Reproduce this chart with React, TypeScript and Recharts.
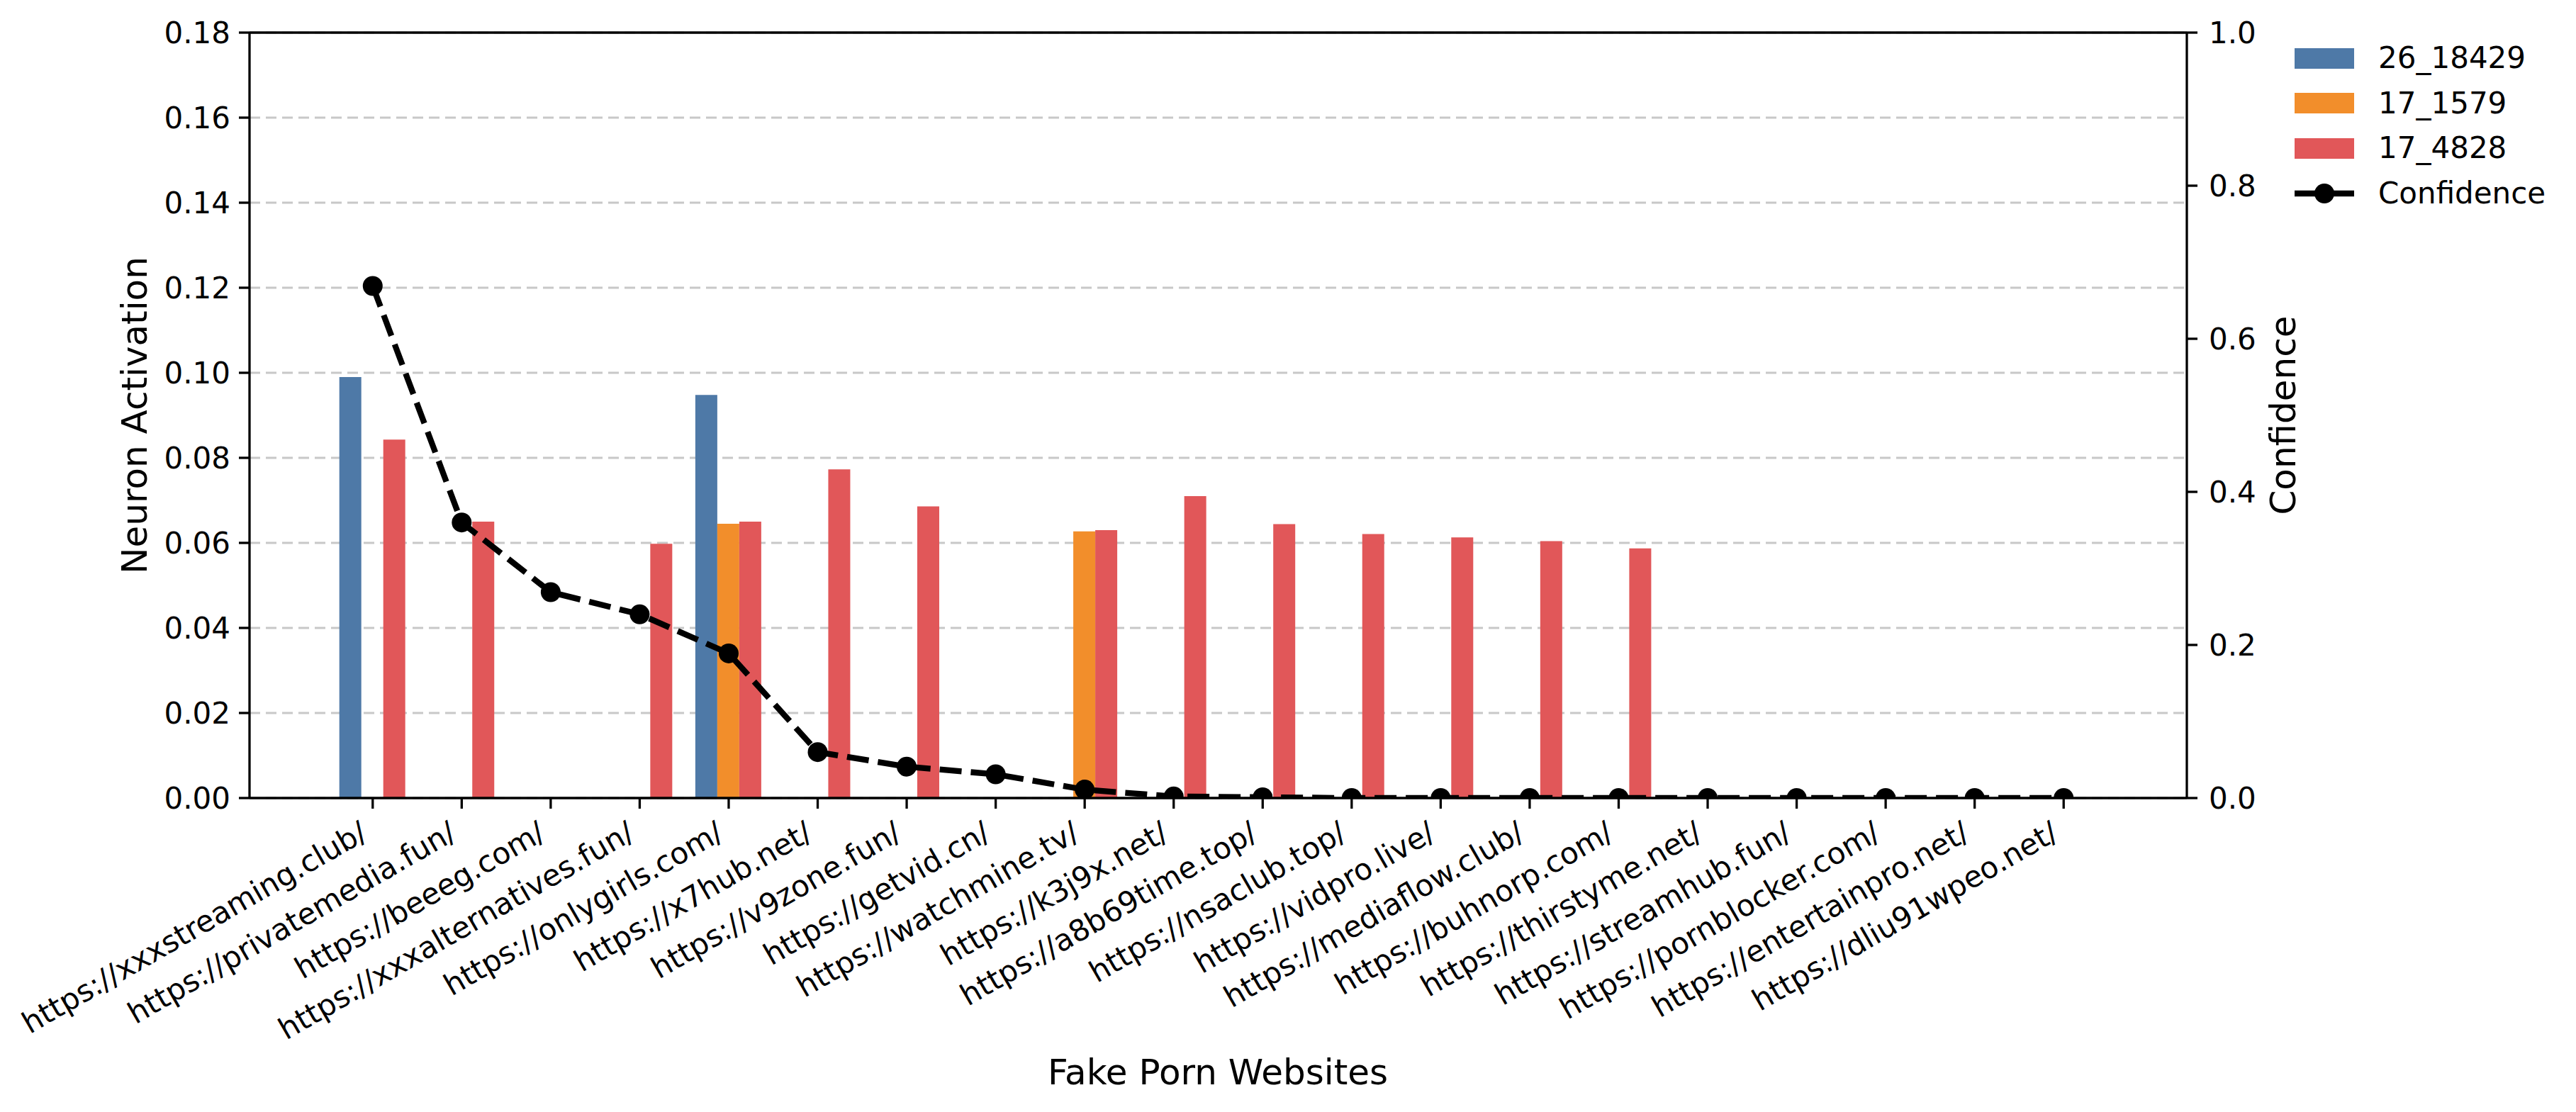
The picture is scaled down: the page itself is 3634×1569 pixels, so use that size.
import { ComposedChart, Bar, Line, XAxis, YAxis, CartesianGrid, ReferenceLine } from "recharts"

// categories on the x axis
const websites = [
  "https://xxxstreaming.club/",
  "https://privatemedia.fun/",
  "https://beeeg.com/",
  "https://xxxalternatives.fun/",
  "https://onlygirls.com/",
  "https://x7hub.net/",
  "https://v9zone.fun/",
  "https://getvid.cn/",
  "https://watchmine.tv/",
  "https://k3j9x.net/",
  "https://a8b69time.top/",
  "https://nsaclub.top/",
  "https://vidpro.live/",
  "https://mediaflow.club/",
  "https://buhnorp.com/",
  "https://thirstyme.net/",
  "https://streamhub.fun/",
  "https://pornblocker.com/",
  "https://entertainpro.net/",
  "https://dliu91wpeo.net/",
]

// neuron activations per neuron id
const neuron26_18429 = [0.099, 0, 0, 0, 0.0948, 0, 0, 0, 0, 0, 0, 0, 0, 0, 0, 0, 0, 0, 0, 0]
const neuron17_1579 = [0, 0, 0, 0, 0.0645, 0, 0, 0, 0.0627, 0, 0, 0, 0, 0, 0, 0, 0, 0, 0, 0]
const neuron17_4828 = [0.0843, 0.065, 0, 0.0598, 0.065, 0.0773, 0.0686, 0, 0.063, 0.071, 0.0644, 0.0621, 0.0613, 0.0604, 0.0587, 0, 0, 0, 0, 0]

// model confidence (right axis)
const confidence = [0.669, 0.36, 0.269, 0.24, 0.189, 0.06, 0.041, 0.031, 0.011, 0.002, 0.001, 0, 0, 0, 0, 0, 0, 0, 0, 0]

const leftTicks = [0, 0.02, 0.04, 0.06, 0.08, 0.1, 0.12, 0.14, 0.16, 0.18]
const rightTicks = [0, 0.2, 0.4, 0.6, 0.8, 1.0]

const BLUE = "#4e79a7"
const ORANGE = "#f28e2b"
const RED = "#e15759"
const FONT = "DejaVu Sans"

const data = websites.map((name, i) => ({
  name,
  a: neuron26_18429[i],
  b: neuron17_1579[i],
  c: neuron17_4828[i],
  conf: confidence[i],
}))

const XTick = (props: any) => {
  const { x, y, payload } = props
  const ax = x - 5
  const ay = y + 42
  return (
    <text
      x={ax}
      y={ay}
      transform={`rotate(-30, ${ax}, ${ay})`}
      textAnchor="end"
      fontSize={42}
      fontFamily={FONT}
      fill="#000"
    >
      {payload.value}
    </text>
  )
}

const legendItems = [
  { label: "26_18429", color: BLUE },
  { label: "17_1579", color: ORANGE },
  { label: "17_4828", color: RED },
]

export default function App() {
  const tickStyle = { fontSize: 42, fontFamily: FONT, fill: "#000" }
  const axisLine = { stroke: "#000", strokeWidth: 3.3 }

  return (
    <div style={{ position: "absolute", left: 0, top: 0, width: 3634, height: 1569, background: "#fff", fontFamily: FONT }}>
      <ComposedChart
        width={3634}
        height={1569}
        data={data}
        margin={{ top: 46, left: 152, right: 349, bottom: 143 }}
        barCategoryGap="12.5%"
        barGap={0}
      >
        <XAxis
          dataKey="name"
          height={300}
          padding={{ left: 111, right: 111 }}
          interval={0}
          tickSize={15}
          tickMargin={0}
          tick={<XTick />}
          axisLine={axisLine}
          tickLine={axisLine}
        />
        <YAxis
          yAxisId="left"
          width={200}
          domain={[0, 0.18]}
          ticks={leftTicks}
          tickFormatter={(v: number) => v.toFixed(2)}
          tickSize={15}
          tickMargin={12}
          tick={tickStyle}
          axisLine={axisLine}
          tickLine={axisLine}
        />
        <YAxis
          yAxisId="right"
          orientation="right"
          width={200}
          domain={[0, 1]}
          ticks={rightTicks}
          allowDataOverflow
          tickFormatter={(v: number) => v.toFixed(1)}
          tickSize={15}
          tickMargin={16}
          tick={tickStyle}
          axisLine={axisLine}
          tickLine={axisLine}
        />
        <Bar yAxisId="left" dataKey="a" fill={BLUE} isAnimationActive={false} />
        <Bar yAxisId="left" dataKey="b" fill={ORANGE} isAnimationActive={false} />
        <Bar yAxisId="left" dataKey="c" fill={RED} isAnimationActive={false} />
        <CartesianGrid
          yAxisId="left"
          vertical={false}
          stroke="#b0b0b0"
          strokeOpacity={0.7}
          strokeWidth={3}
          strokeDasharray="15 8"
        />
        <ReferenceLine yAxisId="left" y={0.18} stroke="#000" strokeWidth={3.3} />
        <Line
          yAxisId="right"
          dataKey="conf"
          type="linear"
          stroke="#000"
          strokeWidth={8.3}
          strokeDasharray="31 13"
          dot={{ r: 14, fill: "#000", stroke: "none", strokeWidth: 0, strokeDasharray: "0" }}
          isAnimationActive={false}
        />
      </ComposedChart>

      {/* axis titles */}
      <div style={{ position: "absolute", left: 190, top: 586, transform: "translate(-50%, -50%) rotate(-90deg)", fontSize: 50, whiteSpace: "nowrap", lineHeight: "50px" }}>
        Neuron Activation
      </div>
      <div style={{ position: "absolute", left: 3221, top: 586, transform: "translate(-50%, -50%) rotate(-90deg)", fontSize: 50, whiteSpace: "nowrap", lineHeight: "50px" }}>
        Confidence
      </div>
      <div style={{ position: "absolute", left: 1718, top: 1513, transform: "translate(-50%, -50%)", fontSize: 50, whiteSpace: "nowrap", lineHeight: "50px" }}>
        Fake Porn Websites
      </div>

      {/* legend */}
      {legendItems.map((item, i) => (
        <div key={item.label} style={{ position: "absolute", left: 3237, top: 82 + i * 63.5 - 21, height: 42, display: "flex", alignItems: "center" }}>
          <span style={{ width: 84, height: 29, background: item.color, display: "inline-block" }} />
          <span style={{ marginLeft: 34, fontSize: 42, lineHeight: "42px" }}>{item.label}</span>
        </div>
      ))}
      <div style={{ position: "absolute", left: 3237, top: 82 + 3 * 63.5 - 21, height: 42, display: "flex", alignItems: "center" }}>
        <svg width={84} height={30} style={{ display: "block" }}>
          <line x1={0} y1={15} x2={84} y2={15} stroke="#000" strokeWidth={8.3} />
          <circle cx={42} cy={15} r={14} fill="#000" />
        </svg>
        <span style={{ marginLeft: 34, fontSize: 42, lineHeight: "42px" }}>Confidence</span>
      </div>
    </div>
  )
}
